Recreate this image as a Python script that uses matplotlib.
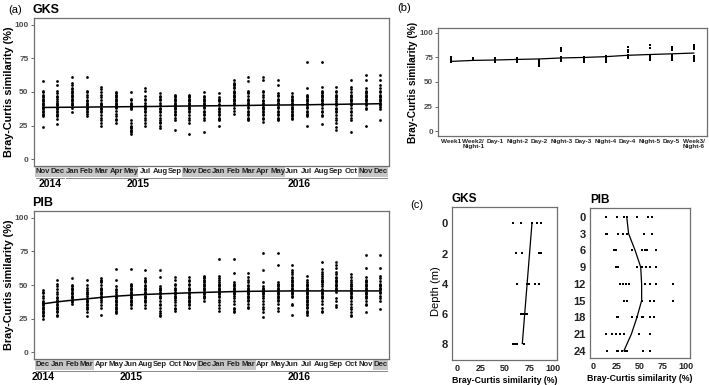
import matplotlib
matplotlib.use("Agg")
import matplotlib.pyplot as plt
from matplotlib.patches import Rectangle
import matplotlib.transforms as mtransforms

plt.rcParams['font.family'] = ['Liberation Sans', 'DejaVu Sans']

# ---------------- data: panel (a) GKS ----------------
gks_months = ["Nov", "Dec", "Jan", "Feb", "Mar", "Apr", "May", "Jul", "Aug", "Sep", "Nov", "Dec",
              "Jan", "Feb", "Mar", "Apr", "May", "Jun", "Jul", "Aug", "Sep", "Oct", "Nov", "Dec"]
gks_years = [("2014", 0, 1), ("2015", 2, 11), ("2016", 12, 23)]
gks_shaded = [(0, 6), (10, 16), (22, 23)]
gks_values = [
    [58, 51, 50, 48, 47, 46, 45, 44, 43, 42, 41, 40, 39, 38, 37, 36, 35, 34, 33, 32, 24],
    [58, 55, 51, 49, 47, 46, 45, 43, 42, 41, 40, 39, 38, 37, 36, 35, 34, 33, 32, 30, 26],
    [61, 57, 55, 53, 52, 51, 50, 49, 48, 47, 46, 45, 44, 43, 42, 41, 40, 38, 35],
    [61, 51, 50, 48, 46, 44, 43, 42, 41, 40, 39, 38, 37, 36, 35, 34, 32],
    [54, 52, 50, 48, 46, 44, 42, 41, 40, 38, 37, 36, 35, 33, 31, 29, 27, 25],
    [50, 49, 48, 47, 46, 45, 44, 43, 42, 41, 40, 39, 38, 36, 34, 32, 30, 29, 27],
    [50, 45, 44, 42, 41, 40, 39, 38, 37, 29, 27, 25, 24, 23, 22, 21, 20, 19],
    [53, 51, 47, 45, 44, 42, 40, 39, 38, 37, 36, 35, 33, 31, 29, 27, 25],
    [49, 47, 46, 45, 44, 42, 40, 38, 37, 36, 35, 33, 31, 29, 28, 27, 25, 23],
    [48, 47, 46, 45, 44, 43, 42, 41, 40, 39, 38, 37, 36, 35, 34, 33, 31, 29, 22],
    [48, 47, 46, 45, 44, 43, 42, 41, 40, 39, 38, 37, 36, 35, 33, 31, 29, 27, 19],
    [50, 47, 46, 45, 44, 43, 42, 41, 40, 39, 38, 36, 35, 34, 33, 31, 29, 20],
    [49, 46, 45, 44, 43, 41, 40, 38, 37, 36, 35, 34, 33, 31, 30, 29, 25],
    [59, 57, 56, 55, 54, 53, 51, 50, 49, 48, 47, 46, 45, 44, 43, 42, 41, 40, 38, 36, 34],
    [61, 58, 51, 50, 49, 47, 45, 44, 43, 42, 41, 40, 39, 38, 36, 35, 34, 33, 31, 30, 29],
    [61, 59, 51, 50, 48, 46, 44, 43, 42, 41, 40, 39, 38, 37, 36, 35, 34, 33, 31, 30, 28],
    [59, 55, 49, 48, 47, 45, 44, 43, 42, 41, 40, 39, 38, 36, 35, 34, 33, 31, 30, 29],
    [49, 47, 46, 45, 44, 43, 42, 41, 40, 39, 38, 37, 36, 35, 34, 33, 32, 31, 30],
    [72, 53, 48, 47, 46, 45, 44, 43, 42, 41, 40, 39, 38, 36, 35, 34, 33, 32, 25],
    [72, 54, 51, 50, 49, 48, 47, 46, 45, 44, 43, 42, 41, 40, 38, 36, 35, 33, 32, 26],
    [54, 51, 50, 48, 47, 46, 45, 43, 42, 41, 40, 38, 37, 36, 35, 33, 31, 29, 27, 24, 22],
    [59, 54, 52, 50, 48, 47, 46, 45, 44, 43, 42, 41, 40, 38, 36, 35, 33, 31, 29, 20],
    [63, 59, 53, 51, 50, 49, 48, 47, 46, 45, 44, 43, 42, 41, 40, 38, 37, 25],
    [63, 59, 55, 53, 51, 50, 48, 47, 46, 45, 44, 43, 42, 41, 40, 39, 37, 29],
]
gks_trend = [38.5, 38.6, 38.7, 38.8, 38.9, 39.0, 39.1, 39.2, 39.3, 39.5, 39.6, 39.7,
             39.8, 39.9, 40.0, 40.2, 40.3, 40.4, 40.5, 40.7, 40.8, 41.0, 41.1, 41.3]

# ---------------- data: panel (a) PIB ----------------
pib_months = ["Dec", "Jan", "Feb", "Mar", "Apr", "May", "Jun", "Aug", "Sep", "Oct", "Nov", "Dec",
              "Jan", "Feb", "Mar", "Apr", "May", "Jun", "Jul", "Aug", "Sep", "Oct", "Nov", "Dec"]
pib_years = [("2014", 0, 0), ("2015", 1, 11), ("2016", 12, 23)]
pib_shaded = [(0, 3), (11, 14), (23, 23)]
pib_values = [
    [46, 45, 44, 42, 40, 38, 37, 36, 35, 34, 33, 32, 31, 30, 29, 28, 27, 25],
    [54, 51, 49, 47, 45, 43, 41, 40, 39, 38, 37, 36, 35, 34, 33, 32, 31, 30, 28, 27],
    [55, 50, 49, 48, 47, 46, 45, 44, 43, 42, 41, 40, 39, 38, 37, 36],
    [54, 50, 48, 46, 45, 44, 43, 42, 40, 39, 38, 37, 36, 35, 34, 33, 32, 30, 27],
    [55, 54, 53, 52, 50, 48, 47, 46, 45, 44, 43, 42, 41, 40, 39, 37, 35, 33, 28],
    [62, 54, 49, 47, 46, 45, 43, 42, 41, 40, 39, 38, 37, 36, 35, 34, 33, 32, 31, 30, 29],
    [62, 51, 50, 49, 48, 47, 46, 45, 44, 43, 42, 41, 40, 39, 38, 37, 36, 35, 33],
    [61, 55, 54, 53, 52, 50, 49, 48, 47, 46, 45, 44, 43, 42, 41, 40, 39, 38, 37, 35, 33],
    [61, 56, 49, 48, 47, 46, 45, 44, 43, 42, 41, 40, 38, 36, 35, 33, 31, 29, 28, 27],
    [56, 54, 51, 50, 48, 47, 46, 45, 44, 43, 42, 41, 40, 39, 37, 35, 33, 32, 31],
    [56, 54, 53, 51, 50, 48, 47, 46, 45, 44, 43, 42, 41, 40, 39, 38, 37, 36, 35, 33],
    [57, 56, 55, 54, 53, 52, 51, 50, 49, 48, 47, 46, 45, 44, 43, 42, 41, 40, 38],
    [69, 57, 55, 54, 52, 51, 50, 49, 48, 47, 46, 45, 44, 43, 42, 41, 39, 37, 35, 33, 31],
    [69, 59, 52, 51, 50, 49, 48, 47, 46, 45, 44, 43, 42, 40, 38, 36, 33, 32, 31, 30],
    [59, 56, 54, 52, 50, 49, 48, 47, 46, 45, 44, 43, 42, 41, 40, 39, 38, 36, 34, 33],
    [74, 61, 52, 49, 48, 47, 46, 45, 44, 43, 42, 40, 38, 36, 34, 32, 30, 26],
    [74, 65, 52, 51, 50, 49, 48, 47, 46, 45, 44, 43, 42, 41, 40, 39, 38, 36, 33, 31],
    [65, 61, 60, 58, 56, 55, 54, 53, 52, 51, 50, 49, 48, 47, 46, 45, 44, 43, 42, 41, 36, 35, 28],
    [57, 54, 52, 51, 50, 49, 48, 47, 46, 45, 44, 43, 42, 41, 40, 39, 38, 37, 36, 35, 34, 33, 31, 30, 29, 28],
    [67, 62, 60, 58, 57, 55, 54, 53, 52, 51, 49, 47, 46, 45, 44, 43, 42, 41, 40, 38, 36, 33, 31, 30],
    [67, 65, 63, 60, 58, 56, 55, 54, 53, 52, 51, 50, 49, 48, 47, 46, 45, 40, 38, 35, 34],
    [58, 56, 54, 52, 51, 50, 49, 48, 47, 46, 45, 44, 43, 42, 41, 40, 38, 36, 34, 32, 30, 28, 27],
    [72, 63, 56, 54, 53, 52, 51, 50, 49, 48, 47, 46, 45, 44, 43, 42, 41, 40, 38, 36, 35, 30],
    [72, 63, 57, 55, 53, 51, 50, 49, 48, 47, 46, 45, 44, 42, 40, 38, 32],
]
pib_trend = [36.0, 37.5, 38.7, 39.7, 40.8, 41.7, 42.4, 43.0, 43.4, 43.8, 44.2, 44.5,
             44.8, 45.1, 45.3, 45.4, 45.5, 45.6, 45.6, 45.6, 45.6, 45.6, 45.6, 45.6]

# ---------------- data: panel (b) ----------------
b_labels = ["Week1", "Week2/\nNight-1", "Day-1", "Night-2", "Day-2", "Night-3", "Day-3",
            "Night-4", "Day-4", "Night-5", "Day-5", "Week3/\nNight-6"]
b_values = [
    [70, 71, 72, 73, 74, 75],
    [72, 73, 74],
    [70, 71, 72, 73, 74],
    [70, 71, 72, 73, 74],
    [66, 67, 68, 69, 70, 71, 72],
    [71, 72, 74, 75, 82, 83, 85],
    [70, 71, 72, 73, 74, 75],
    [70, 71, 73, 75, 76],
    [74, 75, 76, 77, 81, 83, 86],
    [72, 73, 74, 75, 76, 85, 88],
    [72, 73, 75, 76, 77, 83, 85, 86],
    [71, 72, 73, 74, 76, 84, 86, 88],
]
b_trend = [71.0, 72.0, 72.4, 73.0, 73.5, 74.5, 75.0, 75.8, 77.2, 78.0, 78.7, 79.5]

# ---------------- data: panel (c) ----------------
c_gks_depths = [0, 2, 4, 6, 8]
c_gks_values = [
    [58, 67, 78, 83, 87],
    [61, 68, 85, 87],
    [62, 73, 75, 81, 85],
    [67, 69, 71, 73],
    [58, 60, 62, 70],
]
c_gks_trend = [78, 75.5, 73, 70.5, 68]

c_pib_depths = [0, 3, 6, 9, 12, 15, 18, 21, 24]
c_pib_values = [
    [14, 25, 33, 36, 47, 59, 63],
    [14, 15, 27, 32, 36, 55, 63],
    [22, 24, 42, 52, 56, 58, 67],
    [24, 27, 47, 52, 57, 61, 67],
    [29, 32, 35, 38, 56, 61, 67, 86],
    [33, 36, 52, 61, 65, 86],
    [25, 27, 42, 47, 52, 54, 61, 65],
    [14, 20, 24, 29, 33, 49, 61],
    [15, 25, 27, 31, 34, 36, 54, 61],
]
c_pib_trend = [36, 38, 45, 51, 52, 52, 47, 41, 33]

# ---------------- layout ----------------
W, H = 709, 385
fig = plt.figure(figsize=(W / 100, H / 100), dpi=100)


def px_axes(l, t, r, b):
    return fig.add_axes([l / W, 1 - b / H, (r - l) / W, (b - t) / H])


FRAME = '#6f6f6f'
TICKC = '#4d4d4d'


def style_frame(ax):
    for s in ax.spines.values():
        s.set_color(FRAME)
        s.set_linewidth(0.9)


def panel_a(ax, months, years, shaded, values, trend, title):
    style_frame(ax)
    for i, vals in enumerate(values):
        ax.scatter([i] * len(vals), vals, s=4, color='black', linewidths=0, zorder=3)
    ax.plot(range(len(trend)), trend, color='black', lw=1.1, zorder=4)
    ax.set_xlim(-0.6, 23.6)
    ax.set_ylim(-5, 105)
    ax.set_yticks([0, 25, 50, 75, 100])
    ax.set_yticklabels(['0', '25', '50', '75', '100'], fontsize=6, fontweight='bold', color=TICKC)
    ax.tick_params(axis='y', length=2, width=0.6, color=TICKC, pad=2)
    ax.set_xticks(range(len(months)))
    ax.set_xticklabels(months, fontsize=5.6, fontweight='bold', color='#222222')
    ax.tick_params(axis='x', length=0, pad=1.6)
    trans = mtransforms.blended_transform_factory(ax.transData, ax.transAxes)
    for a, b in shaded:
        ax.add_patch(Rectangle((a - 0.5, -0.072), b - a + 1, 0.068, transform=trans,
                               facecolor='#c6c6c6', edgecolor='none', clip_on=False, zorder=0))
    for name, a, b in years:
        ax.plot([a - 0.45, b + 0.45], [-0.078, -0.078], transform=trans, color='#888888',
                lw=0.7, clip_on=False)
        ax.text((a + b) / 2, -0.085, name, transform=trans, ha='center', va='top',
                fontsize=7.5, fontweight='bold')
    ax.set_ylabel('Bray-Curtis similarity (%)', fontsize=7.8, fontweight='bold')
    ax.yaxis.set_label_coords(-20 / 355, 0.5)
    ax.text(-0.005, 1.015, title, transform=ax.transAxes, ha='left', va='bottom',
            fontsize=9, fontweight='bold')


ax1 = px_axes(34, 18, 389, 166)
panel_a(ax1, gks_months, gks_years, gks_shaded, gks_values, gks_trend, 'GKS')
ax2 = px_axes(34, 211, 389, 359)
panel_a(ax2, pib_months, pib_years, pib_shaded, pib_values, pib_trend, 'PIB')

# panel b
axb = px_axes(438, 28, 707, 136)
style_frame(axb)
for i, vals in enumerate(b_values):
    axb.scatter([i] * len(vals), vals, s=4, marker='s', color='black', linewidths=0, zorder=3)
axb.plot(range(len(b_trend)), b_trend, color='black', lw=0.9, zorder=4)
axb.set_xlim(-0.6, 11.6)
axb.set_ylim(-5, 105)
axb.set_yticks([0, 25, 50, 75, 100])
axb.set_yticklabels(['0', '25', '50', '75', '100'], fontsize=5.8, fontweight='bold', color=TICKC)
axb.tick_params(axis='y', length=2, width=0.6, color=TICKC, pad=1.5)
axb.set_xticks(range(len(b_labels)))
axb.set_xticklabels(b_labels, fontsize=4.6, fontweight='bold', color='#222222', linespacing=1.0)
axb.tick_params(axis='x', length=0, pad=2)
axb.set_ylabel('Bray-Curtis similarity (%)', fontsize=7.3, fontweight='bold')
axb.yaxis.set_label_coords(-20 / 269, 0.5)

# panel c
def panel_c(ax, depths, values, trend, yticks, ylim, xlim, title):
    style_frame(ax)
    for d, vals in zip(depths, values):
        ax.scatter(vals, [d] * len(vals), s=3, marker='s', color='black', linewidths=0, zorder=3)
    ax.plot(trend, depths, color='black', lw=0.9, zorder=4)
    ax.set_xlim(*xlim)
    ax.set_ylim(*ylim)
    ax.set_yticks(yticks)
    ax.set_yticklabels([str(t) for t in yticks], fontsize=8, fontweight='heavy', color='#222222')
    ax.set_xticks([0, 25, 50, 75, 100])
    ax.set_xticklabels(['0', '25', '50', '75', '100'], fontsize=6.5, fontweight='heavy', color='#222222')
    ax.tick_params(length=0, pad=3)
    ax.set_xlabel('Bray-Curtis similarity (%)', fontsize=6.3, fontweight='bold', labelpad=2)
    ax.text(0.0, 1.01, title, transform=ax.transAxes, ha='left', va='bottom',
            fontsize=8.5, fontweight='bold')


axc1 = px_axes(452, 207, 557, 360)
panel_c(axc1, c_gks_depths, c_gks_values, c_gks_trend, [0, 2, 4, 6, 8], (9.1, -1.1), (-5, 104), 'GKS')
axc1.set_ylabel('Depth (m)', fontsize=8)
axc1.yaxis.set_label_coords(-11 / 105, 0.45)
axc2 = px_axes(590, 208, 690, 358)
panel_c(axc2, c_pib_depths, c_pib_values, c_pib_trend, [0, 3, 6, 9, 12, 15, 18, 21, 24],
        (25.3, -1.6), (-3.5, 104), 'PIB')

# panel letters
fig.text(8 / W, 1 - 10 / H, '(a)', fontsize=8, ha='left', va='center')
fig.text(397 / W, 1 - 8 / H, '(b)', fontsize=8, ha='left', va='center')
fig.text(410 / W, 1 - 205 / H, '(c)', fontsize=8, ha='left', va='center')

fig.savefig('out.png', dpi=100)
